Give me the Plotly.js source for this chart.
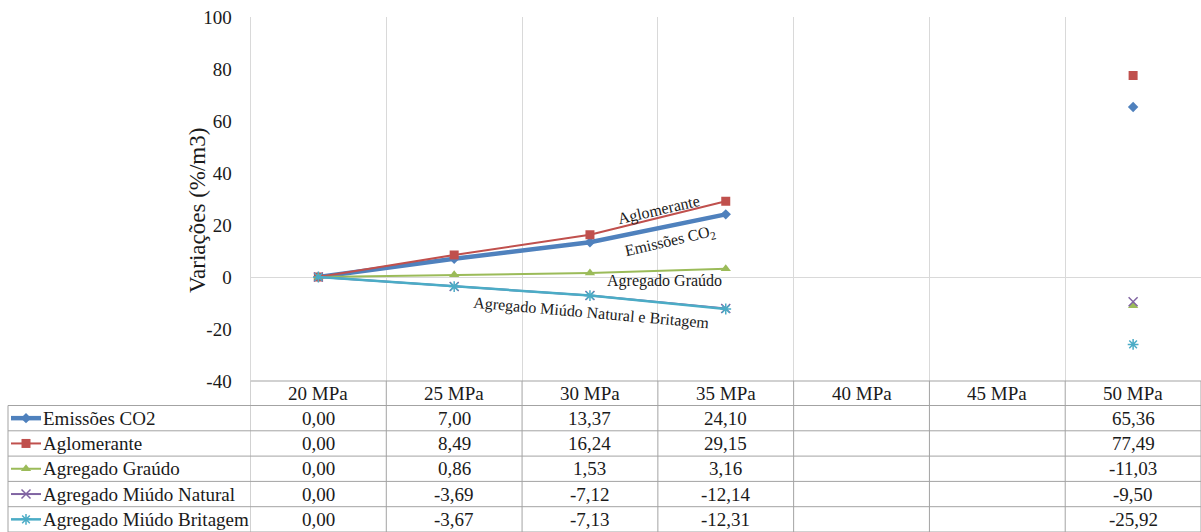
<!DOCTYPE html>
<html>
<head>
<meta charset="utf-8">
<script src="https://cdn.plot.ly/plotly-3.0.1.min.js"></script>
<style>
  html, body { margin: 0; padding: 0; background: #ffffff; }
  #chart { width: 1201px; height: 532px; }
</style>
</head>
<body>
<div id="chart"></div>
<script>
// Classes de resistência (colunas da tabela de dados)
const categorias = ['20 MPa', '25 MPa', '30 MPa', '35 MPa', '40 MPa', '45 MPa', '50 MPa'];

// Variações (%/m3) por série
const emissoesCO2 = [0.00, 7.00, 13.37, 24.10, null, null, 65.36];
const aglomerante = [0.00, 8.49, 16.24, 29.15, null, null, 77.49];
const agregadoGraudo = [0.00, 0.86, 1.53, 3.16, null, null, -11.03];
const agregadoMiudoNatural = [0.00, -3.69, -7.12, -12.14, null, null, -9.50];
const agregadoMiudoBritagem = [0.00, -3.67, -7.13, -12.31, null, null, -25.92];

const nomesSeries = ['Emissões CO2', 'Aglomerante', 'Agregado Graúdo', 'Agregado Miúdo Natural', 'Agregado Miúdo Britagem'];
const tituloY = 'Variações (%/m3)';

// Escala do eixo vertical
const yMin = -40, yMax = 100, yPasso = 20;
const yTicks = [];
for (let v = yMin; v <= yMax; v += yPasso) yTicks.push(v);

// ---- aparência ----
const W = 1201, H = 532;
const FONTE = 'Liberation Serif';
const COR_TEXTO = '#1a1a1a';
const COR_GRADE = '#D9D9D9';
const COR_TABELA = '#A3A3A3';

const estilos = [
  { color: '#4F81BD', width: 4.5, symbol: 'diamond', size: 8, lineMarker: 0 },
  { color: '#C0504D', width: 2, symbol: 'square', size: 9, lineMarker: 0 },
  { color: '#9BBB59', width: 2, symbol: 'triangle-up', size: 9, lineMarker: 0 },
  { color: '#8064A2', width: 2, symbol: 'x-thin-open', size: 9, lineMarker: 1.5 },
  { color: '#4BACC6', width: 2.5, symbol: 'asterisk-open', size: 9, lineMarker: 1.5 }
];

const valores = [emissoesCO2, aglomerante, agregadoGraudo, agregadoMiudoNatural, agregadoMiudoBritagem];

// área de plotagem (pixels)
const plotLeft = 250.5, plotTop = 17, plotBottom = 381;
// tabela de dados (pixels)
const tabEsq = 8, cabTopo = plotBottom, linhaTopo = 405.5, alturaLinha = 25.3;
const TAM_TABELA = 19;

const traces = [];

// Séries no gráfico principal
valores.forEach(function (vals, i) {
  const e = estilos[i];
  traces.push({
    type: 'scatter',
    mode: 'lines+markers',
    name: nomesSeries[i],
    x: categorias,
    y: vals,
    connectgaps: false,
    xaxis: 'x', yaxis: 'y',
    line: { color: e.color, width: e.width },
    marker: {
      symbol: e.symbol, size: e.size, color: e.color,
      line: { color: e.color, width: e.lineMarker }
    },
    hoverinfo: 'x+y+name',
    showlegend: false
  });
});

// Chaves de legenda na primeira coluna da tabela (eixo auxiliar em pixels)
valores.forEach(function (vals, i) {
  const e = estilos[i];
  const ym = linhaTopo + alturaLinha * (i + 0.5);
  traces.push({
    type: 'scatter', mode: 'lines', xaxis: 'x2', yaxis: 'y2',
    x: [11, 41], y: [ym, ym],
    line: { color: e.color, width: e.width },
    hoverinfo: 'skip', showlegend: false
  });
  traces.push({
    type: 'scatter', mode: 'markers', xaxis: 'x2', yaxis: 'y2',
    x: [26], y: [ym],
    marker: { symbol: e.symbol, size: e.size, color: e.color, line: { color: e.color, width: e.lineMarker } },
    hoverinfo: 'skip', showlegend: false
  });
});

const shapes = [];
const annotations = [];

function linha(xref, x0, x1, y0, y1) {
  shapes.push({
    type: 'line', xref: xref, yref: 'y2', x0: x0, x1: x1, y0: y0, y1: y1,
    line: { color: COR_TABELA, width: 1 }, layer: 'above'
  });
}

// Bordas horizontais da tabela
linha('x', -0.5, categorias.length - 0.5, cabTopo, cabTopo);
for (let r = 0; r <= nomesSeries.length; r++) {
  const y = linhaTopo + alturaLinha * r;
  linha('x2', tabEsq, W, y, y);
}
// Bordas verticais
linha('x2', tabEsq, tabEsq, linhaTopo, H);
for (let c = 0; c <= categorias.length; c++) {
  linha('x', c - 0.5, c - 0.5, cabTopo, H);
}

// Cabeçalho
categorias.forEach(function (cat) {
  annotations.push({
    xref: 'x', yref: 'y2', x: cat, y: (cabTopo + linhaTopo) / 2,
    text: cat, showarrow: false, xanchor: 'center', yanchor: 'middle',
    font: { family: FONTE, size: TAM_TABELA, color: COR_TEXTO }
  });
});

function formata(v) {
  return v.toFixed(2).replace('.', ',');
}

// Nomes e valores
valores.forEach(function (vals, r) {
  const ym = linhaTopo + alturaLinha * (r + 0.5);
  annotations.push({
    xref: 'x2', yref: 'y2', x: 41, y: ym, text: nomesSeries[r],
    showarrow: false, xanchor: 'left', yanchor: 'middle',
    font: { family: FONTE, size: TAM_TABELA, color: COR_TEXTO }
  });
  vals.forEach(function (v, c) {
    if (v === null) return;
    annotations.push({
      xref: 'x', yref: 'y2', x: categorias[c], y: ym, text: formata(v),
      showarrow: false, xanchor: 'center', yanchor: 'middle',
      font: { family: FONTE, size: TAM_TABELA, color: COR_TEXTO }
    });
  });
});

// Título do eixo vertical
annotations.push({
  xref: 'x2', yref: 'y2', x: 197, y: 211, text: tituloY, textangle: -90,
  showarrow: false, xanchor: 'center', yanchor: 'middle',
  font: { family: FONTE, size: 23, color: COR_TEXTO }
});

// Rótulos das linhas dentro do gráfico
const rotulos = [
  { text: 'Aglomerante', x: 2.51, y: 25.8, angle: -13 },
  { text: 'Emissões CO<sub>2</sub>', x: 2.59, y: 13.6, angle: -13 },
  { text: 'Agregado Graúdo', x: 2.55, y: -1.5, angle: 0 },
  { text: 'Agregado Miúdo Natural e Britagem', x: 2.01, y: -13.8, angle: 5 }
];
rotulos.forEach(function (l) {
  annotations.push({
    xref: 'x', yref: 'y', x: l.x, y: l.y, text: l.text, textangle: l.angle,
    showarrow: false, xanchor: 'center', yanchor: 'middle',
    font: { family: FONTE, size: 16, color: COR_TEXTO }
  });
});

const layout = {
  width: W, height: H,
  margin: { l: 0, r: 0, t: 0, b: 0, pad: 0 },
  paper_bgcolor: '#ffffff',
  plot_bgcolor: 'rgba(0,0,0,0)',
  showlegend: false,
  font: { family: FONTE, color: COR_TEXTO },
  xaxis: {
    type: 'category',
    categoryorder: 'array', categoryarray: categorias,
    range: [-0.5, categorias.length - 0.5],
    domain: [plotLeft / W, 1],
    anchor: 'y',
    showgrid: true, gridcolor: COR_GRADE, gridwidth: 1,
    tickson: 'boundaries',
    showticklabels: false, ticks: '',
    zeroline: false, showline: false,
    fixedrange: true
  },
  yaxis: {
    range: [yMin, yMax],
    domain: [1 - plotBottom / H, 1 - plotTop / H],
    anchor: 'x',
    tickmode: 'array', tickvals: yTicks, ticktext: yTicks.map(String),
    showgrid: false,
    zeroline: true, zerolinecolor: COR_GRADE, zerolinewidth: 1,
    showline: true, linecolor: COR_GRADE, linewidth: 1,
    ticks: 'outside', ticklen: 14, tickcolor: 'rgba(0,0,0,0)',
    tickfont: { family: FONTE, size: 19, color: COR_TEXTO },
    automargin: false,
    fixedrange: true
  },
  xaxis2: {
    domain: [0, 1], range: [0, W], anchor: 'y2', visible: false, fixedrange: true
  },
  yaxis2: {
    domain: [0, 1], range: [H, 0], anchor: 'x2', visible: false, fixedrange: true
  },
  shapes: shapes,
  annotations: annotations
};

Plotly.newPlot('chart', traces, layout, { displayModeBar: false, staticPlot: true });
</script>
</body>
</html>
